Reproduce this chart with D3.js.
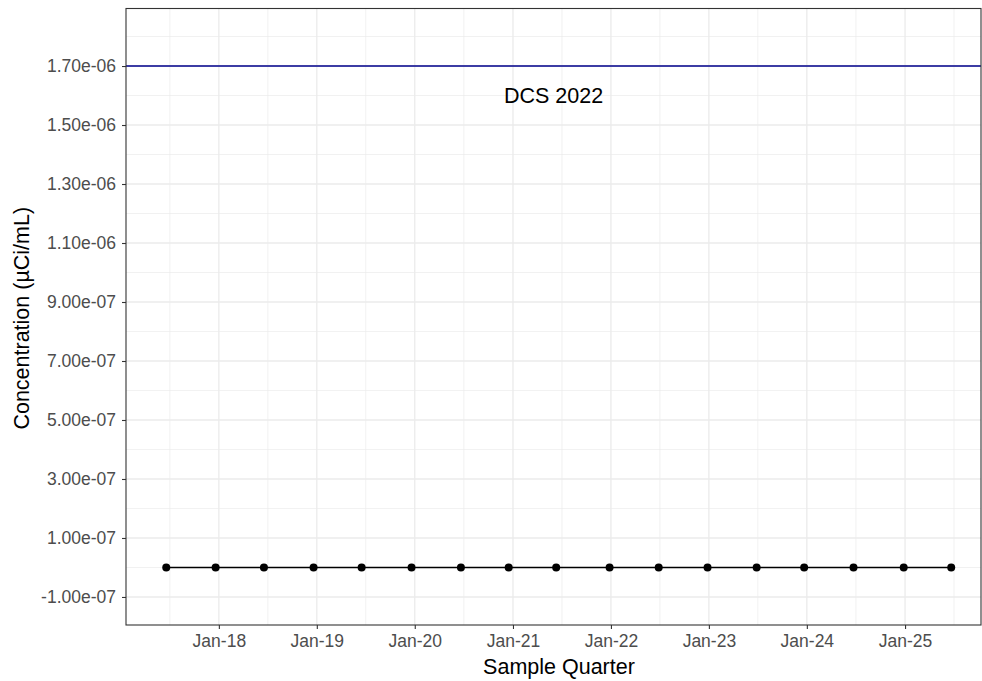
<!DOCTYPE html>
<html><head><meta charset="utf-8">
<script src="https://cdn.jsdelivr.net/npm/d3@7"></script>
<style>body{margin:0;background:#fff;} svg{display:block;font-family:"Liberation Sans",Arial,sans-serif;}</style>
</head><body>
<svg id="chart" width="982" height="681"></svg>
<script>
const sampleDates = ["2017-06-19","2017-12-20","2018-06-18","2018-12-20","2019-06-17","2019-12-20",
  "2020-06-21","2020-12-16","2021-06-11","2021-12-27","2022-06-28","2022-12-27",
  "2023-06-28","2023-12-22","2024-06-23","2024-12-27","2025-06-22"];
const concentrations = [0,0,0,0,0,0,0,0,0,0,0,0,0,0,0,0,0];
const xTickDates = ["2018-01-01","2019-01-01","2020-01-01","2021-01-01","2022-01-01","2023-01-01","2024-01-01","2025-01-01"];
const xLimits = ["2017-01-20","2025-10-11"];
const yTicks = [-1e-7,1e-7,3e-7,5e-7,7e-7,9e-7,1.1e-6,1.3e-6,1.5e-6,1.7e-6];
const yMinor = [0,2e-7,4e-7,6e-7,8e-7,1e-6,1.2e-6,1.4e-6,1.6e-6,1.8e-6];
const dcsValue = 1.7e-6;
const dcsLabel = "DCS 2022";
const dcsLabelY = 1.6e-6;
const yLimits = [-1e-7, 1.8e-6];

const parse = d3.timeParse("%Y-%m-%d");
const data = sampleDates.map((d,i)=>({date:parse(d), value:concentrations[i]}));
const svg = d3.select("#chart");
const L=126, R=981, T=8.5, B=625;

const x = d3.scaleTime().domain(xLimits.map(parse)).range([L,R]);
const ySpan = yLimits[1]-yLimits[0];
const y = d3.scaleLinear().domain([yLimits[0]-0.05*ySpan, yLimits[1]+0.05*ySpan]).range([B,T]);

const xTicks = xTickDates.map(parse);
const xMinor = [];
const step = xTicks[1]-xTicks[0];
const xAll = [new Date(+xTicks[0]-step), ...xTicks, new Date(+xTicks[xTicks.length-1]+step)];
for (let i=0;i<xAll.length-1;i++){ const m=new Date((+xAll[i]+ +xAll[i+1])/2); if (x(m)>L && x(m)<R) xMinor.push(m); }

const g = svg.append("g");
g.selectAll(".ymin").data(yMinor).enter().append("line")
 .attr("x1",L).attr("x2",R).attr("y1",d=>y(d)).attr("y2",d=>y(d))
 .attr("stroke","#EBEBEB").attr("stroke-width",0.7);
g.selectAll(".xmin").data(xMinor).enter().append("line")
 .attr("y1",T).attr("y2",B).attr("x1",d=>x(d)).attr("x2",d=>x(d))
 .attr("stroke","#EBEBEB").attr("stroke-width",0.7);
g.selectAll(".ymaj").data(yTicks).enter().append("line")
 .attr("x1",L).attr("x2",R).attr("y1",d=>y(d)).attr("y2",d=>y(d))
 .attr("stroke","#EBEBEB").attr("stroke-width",1.3);
g.selectAll(".xmaj").data(xTicks).enter().append("line")
 .attr("y1",T).attr("y2",B).attr("x1",d=>x(d)).attr("x2",d=>x(d))
 .attr("stroke","#EBEBEB").attr("stroke-width",1.3);

svg.append("line").attr("x1",L).attr("x2",R).attr("y1",y(dcsValue)).attr("y2",y(dcsValue))
 .attr("stroke","#00008B").attr("stroke-width",1.3);
svg.append("text").attr("x",(L+R)/2).attr("y",y(dcsLabelY)).attr("dy","0.36em")
 .attr("text-anchor","middle").attr("font-size",21.5).attr("fill","#000").text(dcsLabel);

svg.append("path").datum(data)
 .attr("d", d3.line().x(d=>x(d.date)).y(d=>y(d.value)))
 .attr("fill","none").attr("stroke","#000").attr("stroke-width",1.3);
svg.selectAll(".pt").data(data).enter().append("circle")
 .attr("cx",d=>x(d.date)).attr("cy",d=>y(d.value)).attr("r",4).attr("fill","#000");

const fmtY = v => { let s = v.toExponential(2); return s.replace(/e([+-])(\d)$/,"e$10$2"); };
const yAxis = svg.append("g").attr("transform",`translate(${L},0)`)
 .call(d3.axisLeft(y).tickValues(yTicks).tickFormat(fmtY).tickSize(4).tickPadding(6));
const xAxis = svg.append("g").attr("transform",`translate(0,${B})`)
 .call(d3.axisBottom(x).tickValues(xTicks).tickFormat(d3.timeFormat("%b-%y")).tickSize(4).tickPadding(6));
[yAxis,xAxis].forEach(a=>{
  a.select(".domain").remove();
  a.selectAll(".tick line").attr("stroke","#333").attr("stroke-width",1.1);
  a.selectAll(".tick text").attr("fill","#4D4D4D").attr("font-size",17.5).attr("font-family","Liberation Sans, Arial, sans-serif");
});

svg.append("rect").attr("x",L).attr("y",T).attr("width",R-L).attr("height",B-T)
 .attr("fill","none").attr("stroke","#333").attr("stroke-width",1.1);

svg.append("text").attr("x",559).attr("y",674).attr("text-anchor","middle")
 .attr("font-size",21.5).attr("fill","#000").text("Sample Quarter");
svg.append("text").attr("transform",`translate(29,${(T+B)/2 + 1.5}) rotate(-90)`).attr("text-anchor","middle")
 .attr("font-size",21.5).attr("fill","#000").text("Concentration (µCi/mL)");
</script>
</body></html>
